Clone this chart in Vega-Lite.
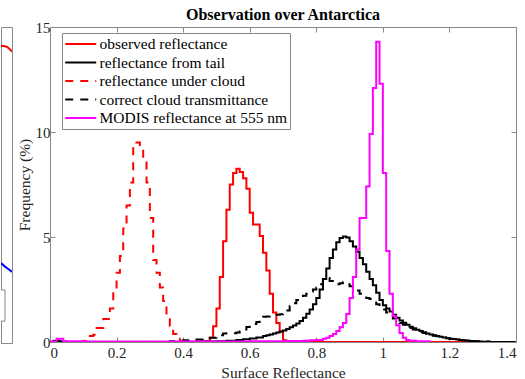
{
  "$schema": "https://vega.github.io/schema/vega-lite/v6.json",
  "padding": {"left": 0, "top": 6, "right": 0, "bottom": 0},
  "background": "white",
  "spacing": 3,
  "datasets": {
    "obs": [{"x":0,"f":0},{"x":0.47,"f":0.05},{"x":0.48,"f":0.2},{"x":0.49,"f":0.75},{"x":0.5,"f":1.6},{"x":0.51,"f":3.1},{"x":0.52,"f":4.8},{"x":0.53,"f":6.3},{"x":0.54,"f":7.5},{"x":0.55,"f":8.05},{"x":0.56,"f":8.25},{"x":0.57,"f":8.1},{"x":0.58,"f":7.8},{"x":0.59,"f":7.3},{"x":0.6,"f":6.15},{"x":0.61,"f":5.6},{"x":0.62,"f":5.6},{"x":0.63,"f":5.05},{"x":0.64,"f":4.25},{"x":0.65,"f":3.4},{"x":0.66,"f":2.3},{"x":0.67,"f":1.4},{"x":0.68,"f":0.9},{"x":0.69,"f":0.5},{"x":0.7,"f":0.08},{"x":0.71,"f":0.02},{"x":0.72,"f":0},{"x":1.27,"f":0}],
    "tail": [{"x":0,"f":0},{"x":0.01,"f":0.06},{"x":0.03,"f":0.02},{"x":0.05,"f":0},{"x":0.4,"f":0.01},{"x":0.45,"f":0.02},{"x":0.5,"f":0.04},{"x":0.53,"f":0.06},{"x":0.56,"f":0.1},{"x":0.58,"f":0.13},{"x":0.6,"f":0.17},{"x":0.62,"f":0.22},{"x":0.64,"f":0.28},{"x":0.65,"f":0.32},{"x":0.66,"f":0.36},{"x":0.67,"f":0.4},{"x":0.68,"f":0.45},{"x":0.69,"f":0.5},{"x":0.7,"f":0.55},{"x":0.71,"f":0.62},{"x":0.72,"f":0.7},{"x":0.73,"f":0.78},{"x":0.74,"f":0.88},{"x":0.75,"f":1.0},{"x":0.76,"f":1.15},{"x":0.77,"f":1.35},{"x":0.78,"f":1.55},{"x":0.79,"f":1.8},{"x":0.8,"f":2.1},{"x":0.81,"f":2.5},{"x":0.82,"f":3.0},{"x":0.83,"f":3.5},{"x":0.84,"f":4.0},{"x":0.85,"f":4.4},{"x":0.86,"f":4.75},{"x":0.87,"f":4.95},{"x":0.88,"f":5.02},{"x":0.89,"f":4.98},{"x":0.9,"f":4.8},{"x":0.91,"f":4.55},{"x":0.92,"f":4.3},{"x":0.93,"f":4.0},{"x":0.94,"f":3.7},{"x":0.95,"f":3.35},{"x":0.96,"f":3.0},{"x":0.97,"f":2.7},{"x":0.98,"f":2.35},{"x":0.99,"f":2.0},{"x":1.0,"f":1.75},{"x":1.01,"f":1.6},{"x":1.02,"f":1.45},{"x":1.03,"f":1.3},{"x":1.04,"f":1.15},{"x":1.05,"f":1.02},{"x":1.06,"f":0.92},{"x":1.07,"f":0.82},{"x":1.08,"f":0.73},{"x":1.09,"f":0.65},{"x":1.1,"f":0.58},{"x":1.11,"f":0.52},{"x":1.12,"f":0.46},{"x":1.13,"f":0.41},{"x":1.14,"f":0.36},{"x":1.15,"f":0.32},{"x":1.16,"f":0.28},{"x":1.17,"f":0.25},{"x":1.18,"f":0.22},{"x":1.19,"f":0.19},{"x":1.2,"f":0.16},{"x":1.21,"f":0.14},{"x":1.22,"f":0.12},{"x":1.23,"f":0.1},{"x":1.24,"f":0.08},{"x":1.25,"f":0.07},{"x":1.26,"f":0.05},{"x":1.27,"f":0.04},{"x":1.28,"f":0.03},{"x":1.29,"f":0.02},{"x":1.3,"f":0.01},{"x":1.32,"f":0},{"x":1.4,"f":0}],
    "cloud": [{"x":0.09,"f":0},{"x":0.1,"f":0.05},{"x":0.11,"f":0.29},{"x":0.12,"f":0.29},{"x":0.13,"f":0.35},{"x":0.14,"f":0.67},{"x":0.15,"f":0.67},{"x":0.16,"f":1.1},{"x":0.17,"f":1.1},{"x":0.18,"f":1.6},{"x":0.19,"f":2.4},{"x":0.2,"f":3.3},{"x":0.21,"f":4.1},{"x":0.22,"f":5.4},{"x":0.23,"f":6.5},{"x":0.24,"f":7.6},{"x":0.25,"f":9.5},{"x":0.26,"f":9.5},{"x":0.27,"f":9.2},{"x":0.28,"f":8.6},{"x":0.29,"f":7.6},{"x":0.3,"f":5.9},{"x":0.31,"f":3.9},{"x":0.32,"f":3.3},{"x":0.33,"f":2.6},{"x":0.34,"f":1.95},{"x":0.35,"f":1.3},{"x":0.36,"f":0.76},{"x":0.37,"f":0.38},{"x":0.38,"f":0.15},{"x":0.39,"f":0.05},{"x":0.4,"f":0.02},{"x":0.42,"f":0}],
    "corr": [{"x":0,"f":0},{"x":0.02,"f":0.05},{"x":0.04,"f":0},{"x":0.36,"f":0.03},{"x":0.38,"f":0.06},{"x":0.4,"f":0.08},{"x":0.42,"f":0.1},{"x":0.44,"f":0.12},{"x":0.46,"f":0.15},{"x":0.48,"f":0.2},{"x":0.5,"f":0.25},{"x":0.51,"f":0.32},{"x":0.52,"f":0.4},{"x":0.53,"f":0.42},{"x":0.54,"f":0.42},{"x":0.55,"f":0.42},{"x":0.56,"f":0.45},{"x":0.57,"f":0.5},{"x":0.58,"f":0.6},{"x":0.59,"f":0.72},{"x":0.6,"f":0.8},{"x":0.61,"f":0.86},{"x":0.62,"f":0.95},{"x":0.63,"f":1.1},{"x":0.64,"f":1.2},{"x":0.65,"f":1.22},{"x":0.66,"f":1.25},{"x":0.67,"f":1.28},{"x":0.68,"f":1.3},{"x":0.69,"f":1.32},{"x":0.7,"f":1.36},{"x":0.71,"f":1.5},{"x":0.72,"f":1.7},{"x":0.73,"f":1.85},{"x":0.74,"f":2.0},{"x":0.75,"f":2.1},{"x":0.76,"f":2.2},{"x":0.77,"f":2.3},{"x":0.78,"f":2.4},{"x":0.79,"f":2.5},{"x":0.8,"f":2.6},{"x":0.81,"f":2.75},{"x":0.82,"f":2.95},{"x":0.83,"f":3.05},{"x":0.84,"f":2.9},{"x":0.85,"f":2.75},{"x":0.86,"f":2.75},{"x":0.87,"f":2.8},{"x":0.88,"f":2.85},{"x":0.89,"f":2.75},{"x":0.9,"f":2.65},{"x":0.91,"f":2.55},{"x":0.92,"f":2.45},{"x":0.93,"f":2.3},{"x":0.94,"f":2.2},{"x":0.95,"f":2.1},{"x":0.96,"f":2.05},{"x":0.97,"f":1.95},{"x":0.98,"f":1.8},{"x":0.99,"f":1.65},{"x":1.0,"f":1.55},{"x":1.01,"f":1.4},{"x":1.02,"f":1.25},{"x":1.03,"f":1.12},{"x":1.04,"f":1.0},{"x":1.05,"f":0.9},{"x":1.06,"f":0.82},{"x":1.07,"f":0.74},{"x":1.08,"f":0.67},{"x":1.09,"f":0.6},{"x":1.1,"f":0.53},{"x":1.11,"f":0.48},{"x":1.12,"f":0.43},{"x":1.13,"f":0.38},{"x":1.14,"f":0.34},{"x":1.15,"f":0.3},{"x":1.16,"f":0.27},{"x":1.17,"f":0.24},{"x":1.18,"f":0.21},{"x":1.19,"f":0.18},{"x":1.2,"f":0.15},{"x":1.21,"f":0.13},{"x":1.22,"f":0.11},{"x":1.23,"f":0.09},{"x":1.24,"f":0.07},{"x":1.25,"f":0.06},{"x":1.26,"f":0.05},{"x":1.27,"f":0.04},{"x":1.28,"f":0.03},{"x":1.3,"f":0.02},{"x":1.32,"f":0}],
    "modis": [{"x":0,"f":0.02},{"x":0.02,"f":0.15},{"x":0.04,"f":0.03},{"x":0.1,"f":0.02},{"x":0.6,"f":0.03},{"x":0.7,"f":0.05},{"x":0.76,"f":0.06},{"x":0.78,"f":0.08},{"x":0.8,"f":0.1},{"x":0.82,"f":0.15},{"x":0.83,"f":0.2},{"x":0.84,"f":0.28},{"x":0.85,"f":0.38},{"x":0.86,"f":0.52},{"x":0.87,"f":0.7},{"x":0.88,"f":0.9},{"x":0.89,"f":1.33},{"x":0.9,"f":2.1},{"x":0.91,"f":3.1},{"x":0.92,"f":4.4},{"x":0.93,"f":5.9},{"x":0.94,"f":5.9},{"x":0.95,"f":7.4},{"x":0.96,"f":9.9},{"x":0.97,"f":12.1},{"x":0.98,"f":14.3},{"x":0.99,"f":12.3},{"x":1.0,"f":8.05},{"x":1.01,"f":4.33},{"x":1.02,"f":2.3},{"x":1.03,"f":1.24},{"x":1.04,"f":0.8},{"x":1.05,"f":0.43},{"x":1.06,"f":0.2},{"x":1.07,"f":0.1},{"x":1.08,"f":0.06},{"x":1.1,"f":0.03},{"x":1.14,"f":0}],
    "fragRed": [{"x":0,"y":10.19},{"x":3,"y":10.19},{"x":6,"y":10.16},{"x":8,"y":10.1},{"x":10,"y":10.03},{"x":11,"y":10.0}],
    "fragBlue": [{"x":0,"y":2.74},{"x":4,"y":2.62},{"x":8,"y":2.52},{"x":11,"y":2.44}],
    "fragBox": [{"x":-5,"x2":4,"y":1.82,"y2":0.75}]
  },
  "resolve": {"scale": {"color": "independent", "strokeDash": "independent"}},
  "config": {
    "view": {"stroke": "#888", "strokeWidth": 1},
    "font": "Liberation Serif",
    "title": {"font": "Liberation Serif", "fontSize": 16, "fontWeight": "bold", "color": "black", "offset": -3},
    "axis": {"grid": false, "domain": false, "tickColor": "#888", "tickSize": -5, "labelFont": "Liberation Serif", "labelFontSize": 15, "labelColor": "#262626", "titleFont": "Liberation Serif", "titleFontSize": 15.5, "titleFontWeight": "normal", "titleColor": "#262626"}
  },
  "hconcat": [
    {
      "width": 11,
      "height": 316,
      "encoding": {
        "x": {"field": "x", "type": "quantitative", "scale": {"domain": [0, 11], "nice": false}, "axis": null},
        "y": {"field": "y", "type": "quantitative", "scale": {"domain": [0, 10.84], "nice": false}, "axis": null}
      },
      "layer": [
        {"data": {"name": "fragBox"}, "mark": {"type": "rect", "fill": "white", "stroke": "#888", "strokeWidth": 1, "clip": true}, "encoding": {"x2": {"field": "x2"}, "y2": {"field": "y2"}}},
        {"data": {"name": "fragRed"}, "mark": {"type": "line", "color": "#ff0000", "strokeWidth": 2, "clip": true},
         "encoding": {"y": {"field": "y", "type": "quantitative", "scale": {"domain": [0, 10.84], "nice": false}, "axis": {"orient": "right", "values": [0.6,1.6,2.6,3.6,4.6,5.6,6.6,7.6,8.6,9.6], "labels": false, "title": null, "tickSize": -4}}}},
        {"data": {"name": "fragBlue"}, "mark": {"type": "line", "color": "#0000ff", "strokeWidth": 2, "clip": true}, "encoding": {}}
      ]
    },
    {
      "width": 466,
      "height": 315,
      "title": {"text": "Observation over Antarctica"},
      "encoding": {
        "x": {"field": "x", "type": "quantitative", "scale": {"domain": [0, 1.4], "nice": false}, "axis": null},
        "y": {"field": "f", "type": "quantitative", "scale": {"domain": [0, 15], "nice": false}, "axis": null}
      },
      "layer": [
        {"data": {"name": "obs"}, "mark": {"type": "line", "interpolate": "step-after", "strokeWidth": 2, "clip": true},
         "encoding": {
           "x": {"field": "x", "type": "quantitative", "scale": {"domain": [0, 1.4], "nice": false}, "axis": {"values": [0,0.2,0.4,0.6,0.8,1,1.2,1.4], "format": "~g", "labelPadding": 8, "title": "Surface Reflectance", "titlePadding": 5}},
           "y": {"field": "f", "type": "quantitative", "scale": {"domain": [0, 15], "nice": false}, "axis": {"values": [0,5,10,15], "labelPadding": 5, "title": "Frequency (%)", "titlePadding": 3}},
           "color": {"datum": "observed reflectance", "type": "nominal",
             "scale": {"domain": ["observed reflectance", "reflectance from tail", "reflectance under cloud", "correct cloud transmittance", "MODIS reflectance at 555 nm"], "range": ["#ff0000", "#000000", "#ff0000", "#000000", "#ff00ff"]},
             "legend": {"title": null, "orient": "none", "legendX": 12, "legendY": 6, "padding": 2, "strokeColor": "#888", "fillColor": "white", "symbolType": "M-1,0H3", "symbolSize": 240, "symbolStrokeWidth": 2, "labelFont": "Liberation Serif", "labelFontSize": 15.5, "labelColor": "black", "labelOffset": 17.5, "labelLimit": 400, "rowPadding": 0.5}},
           "strokeDash": {"datum": "observed reflectance", "type": "nominal",
             "scale": {"domain": ["observed reflectance", "reflectance from tail", "reflectance under cloud", "correct cloud transmittance", "MODIS reflectance at 555 nm"], "range": [[1,0], [1,0], [8,7], [8,7], [1,0]]}}
         }},
        {"data": {"name": "tail"}, "mark": {"type": "line", "interpolate": "step-after", "strokeWidth": 2, "clip": true},
         "encoding": {
           "color": {"datum": "reflectance from tail", "type": "nominal"},
           "strokeDash": {"datum": "reflectance from tail", "type": "nominal"}
         }},
        {"data": {"name": "cloud"}, "mark": {"type": "line", "interpolate": "step-after", "strokeWidth": 2, "clip": true},
         "encoding": {
           "color": {"datum": "reflectance under cloud", "type": "nominal"},
           "strokeDash": {"datum": "reflectance under cloud", "type": "nominal"}
         }},
        {"data": {"name": "corr"}, "mark": {"type": "line", "interpolate": "step-after", "strokeWidth": 2, "clip": true},
         "encoding": {
           "color": {"datum": "correct cloud transmittance", "type": "nominal"},
           "strokeDash": {"datum": "correct cloud transmittance", "type": "nominal"}
         }},
        {"data": {"name": "modis"}, "mark": {"type": "line", "interpolate": "step-after", "strokeWidth": 2, "clip": true},
         "encoding": {
           "color": {"datum": "MODIS reflectance at 555 nm", "type": "nominal"},
           "strokeDash": {"datum": "MODIS reflectance at 555 nm", "type": "nominal"}
         }},
        {"data": {"name": "obs"}, "mark": {"type": "line", "opacity": 0},
         "encoding": {
           "x": {"field": "x", "type": "quantitative", "scale": {"domain": [0, 1.4], "nice": false}, "axis": {"orient": "top", "values": [0,0.2,0.4,0.6,0.8,1,1.2,1.4], "labels": false, "title": null}},
           "y": {"field": "f", "type": "quantitative", "scale": {"domain": [0, 15], "nice": false}, "axis": {"orient": "right", "values": [0,5,10,15], "labels": false, "title": null}}
         }}
      ],
      "resolve": {"axis": {"x": "independent", "y": "independent"}}
    }
  ]
}
